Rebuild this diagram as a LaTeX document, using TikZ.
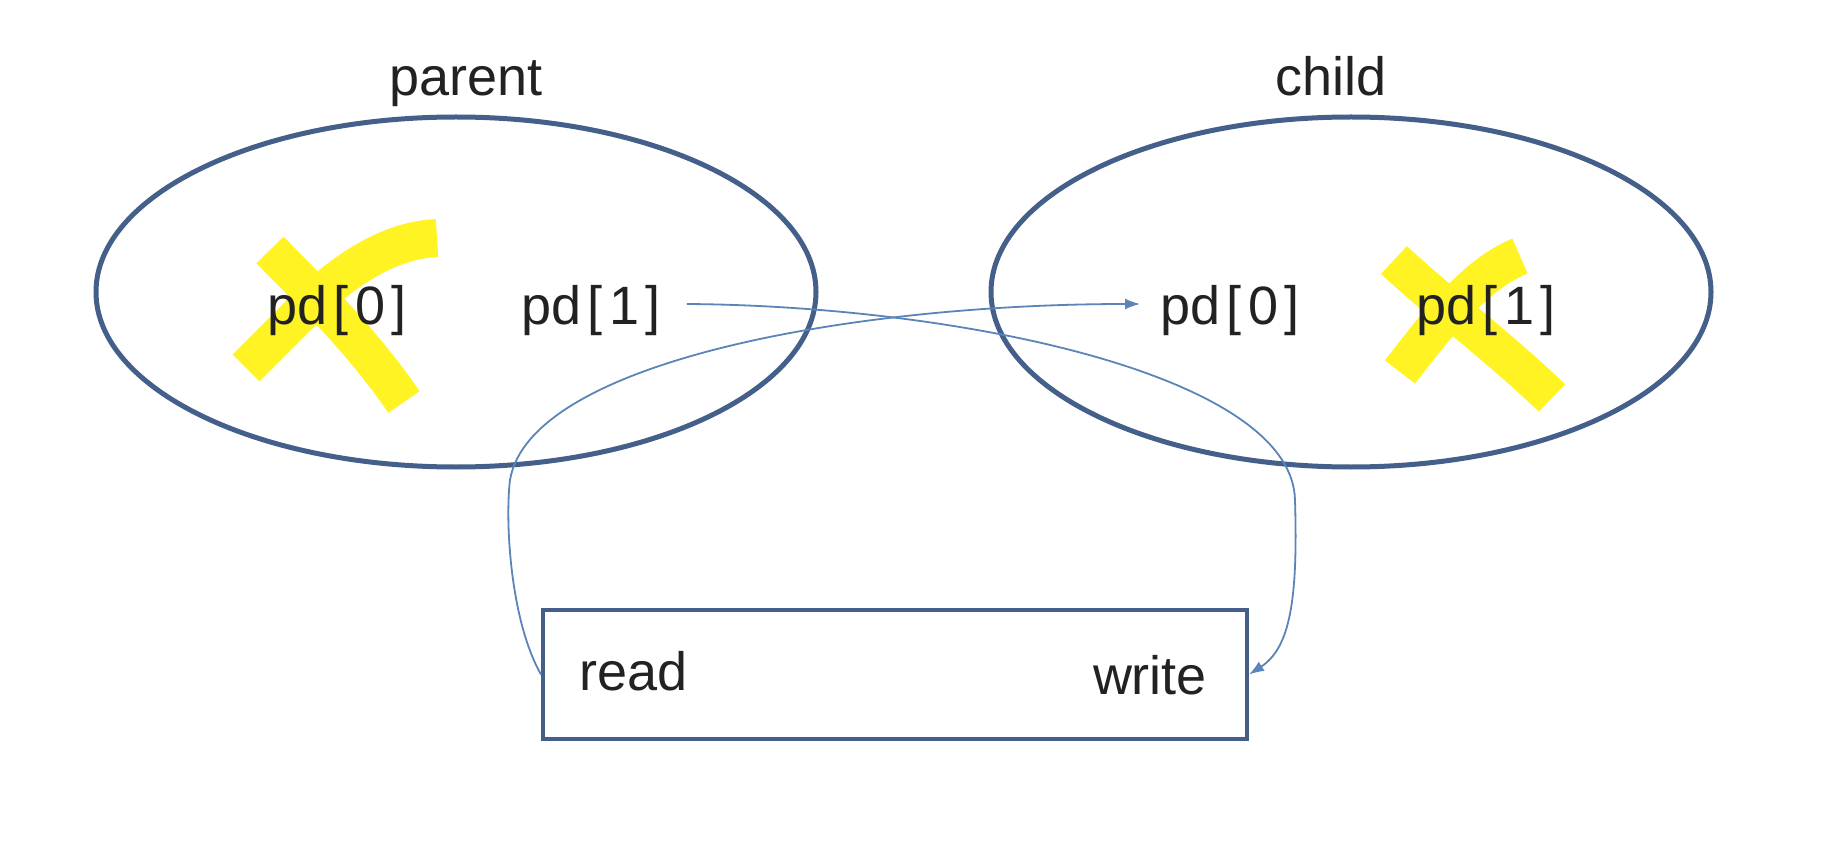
\documentclass[tikz,border=0pt]{standalone}
\usepackage{fontspec}
\setmainfont{Liberation Sans}
\usetikzlibrary{shapes.geometric,arrows.meta}
\definecolor{edgeblue}{HTML}{44608A}
\definecolor{linkblue}{HTML}{5B84B8}
\definecolor{marker}{HTML}{FFF324}
\definecolor{ink}{HTML}{222222}
\newcommand{\pdtxt}[1]{pd\kern0.12em[\kern0.12em#1\kern0.12em]}
\tikzset{
  proc/.style={ellipse, draw=edgeblue, line width=5pt, minimum width=720pt, minimum height=350pt, inner sep=0pt},
  pipebox/.style={rectangle, draw=edgeblue, line width=4pt, minimum width=704pt, minimum height=129pt, inner sep=0pt},
  lbl/.style={font=\fontsize{54}{60}\selectfont, text=ink, anchor=base, inner sep=0pt},
  link/.style={draw=linkblue, line width=1.8pt, -{Latex[length=15pt,width=11pt]}},
  xmark/.style={draw=marker, line width=38pt, line cap=butt, line join=round}
}
\begin{document}
\begin{tikzpicture}[x=1pt,y=-1pt]
\useasboundingbox[fill=white] (0,0) rectangle (1840,850);
% yellow crosses
\draw[xmark] (437,238) .. controls (392,240) and (352,266) .. (318,296) -- (246,368);
\draw[xmark] (270,250) .. controls (312,293) and (360,338) .. (404,402);
\draw[xmark] (1520,256) .. controls (1482,272) and (1452,304) .. (1400,372);
\draw[xmark] (1394,260) .. controls (1440,303) and (1500,348) .. (1552,398);
% processes
\node[proc] (parent) at (456,292) {};
\node[proc] (child) at (1351,292) {};
\node[lbl] (ptitle) at (466,96) {parent};
\node[lbl] (ctitle) at (1331,96) {child};
\node[lbl] (p0) at (337,325) {\pdtxt{0}};
\node[lbl] (p1) at (591,325) {\pdtxt{1}};
\node[lbl] (c0) at (1230,325) {\pdtxt{0}};
\node[lbl] (c1) at (1486,325) {\pdtxt{1}};
% pipe
\node[pipebox] (pipe) at (895,674.5) {};
\node[lbl] (rd) at (634,690) {read};
\node[lbl] (wr) at (1150,694) {write};
% connectors
\coordinate (p1out) at ([xshift=26pt,yshift=21pt]p1.base east);
\coordinate (c0in) at ([xshift=-20pt,yshift=21pt]c0.base west);
\draw[link] (p1out) .. controls (960,306) and (1292,375) .. (1295,500)
  .. controls (1298,600) and (1290,648) .. (pipe.east);
\draw[link] (pipe.west) .. controls (510,620) and (505,520) .. (510,480)
  .. controls (530,362) and (850,304) .. (c0in);
\end{tikzpicture}
\end{document}
